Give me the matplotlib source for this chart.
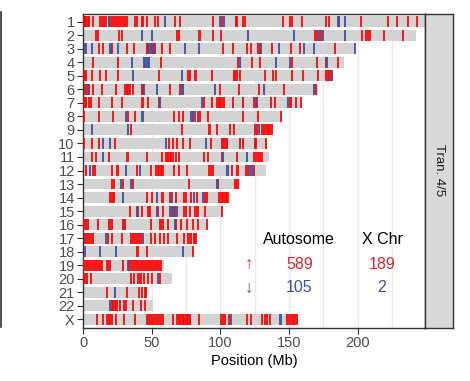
import matplotlib
matplotlib.use("Agg")
import matplotlib.pyplot as plt
from matplotlib.lines import Line2D

plt.rcParams['font.family'] = ['Liberation Sans', 'DejaVu Sans']

chroms = [str(i) for i in range(1, 23)] + ["X"]
chrom_len = [248.96, 242.19, 198.30, 190.21, 181.54, 170.81, 159.35, 145.14,
             138.39, 133.80, 135.09, 133.28, 114.36, 107.04, 101.99, 90.34,
             83.26, 80.37, 58.62, 64.44, 46.71, 50.82, 156.04]

# positions (Mb) of up (red) and down (blue) marks, one list per chromosome
up_mb = [
    [0.5, 1.5, 2.5, 3.5, 4.5, 7.3, 12.5, 14, 15.5, 16.8, 20, 21.5, 23, 24.5, 26, 27.5, 29, 30.5, 32,
     37.9, 39.1, 42.8, 43.9, 46.4, 52.4, 54.8, 67, 70.6, 94.7, 101, 111.2, 112.2, 116.5, 117.8,
     145.9, 151, 152, 159.3, 176.8, 179.2, 186.5, 202.3, 221.9, 228.5, 236.9, 243.5],
    [9.5, 10.7, 26.5, 28.5, 68.5, 70, 84.8, 94.9, 100.5, 169, 170.5, 173.3, 203, 206.1, 207.6, 209,
     219.2, 232.7],
    [11.8, 14.8, 21.1, 32, 37, 46.4, 47.3, 50.6, 52.4, 57.3, 63.2, 101.6, 109.2, 119.2, 122.4, 127.2,
     128.6, 137.3, 151.5, 157.8, 183.5],
    [7.1, 25.5, 57, 112.7, 122.9, 128.9, 151.9, 170.2, 177, 185.5],
    [1.1, 2, 6.3, 12.4, 17, 25.3, 55.4, 76.8, 77.9, 81.9, 94.2, 110, 111, 112.2, 114.3, 132.6, 138,
     140.6, 152, 160, 171.4, 177, 178.1, 179.2, 180.3],
    [1.8, 4.4, 7.5, 13.6, 24, 30.6, 31.7, 32.8, 33.9, 36.2, 42.8, 43.9, 63.4, 70.6, 99.6, 113.8,
     128.4, 146.6, 169.3],
    [1.1, 2.2, 4.7, 5.6, 11.4, 21.3, 28.2, 43.3, 47.6, 55.4, 88.1, 93.7, 97.4, 98.7, 100, 101.2,
     102.7, 109.5, 116.8, 124.8, 126.7, 136.9, 139.8, 150.4, 151.5, 154.9, 158.8],
    [0.7, 11.7, 22.1, 33, 37.7, 66.5, 70.1, 72.6, 80.1, 84, 85.2, 91, 116.8, 127.7, 144.2],
    [35.2, 71.9, 92.1, 97.4, 107.3, 110.2, 124.9, 126.4, 130, 131.5, 132.9, 134.4, 135.8, 137.3],
    [0.7, 6.3, 11.8, 23.5, 62.6, 65.5, 68.5, 72.6, 77.9, 92.9, 100.9, 102.3, 103.8, 104.9, 114.5,
     116.5, 124.9, 126, 133.1],
    [6.3, 9.6, 18.9, 32.4, 46.4, 57.3, 60.8, 61.9, 63, 64.1, 65.2, 67.5, 69.9, 88.1, 91.3, 101,
     111.9, 124.5, 126, 127.5, 128.9, 130],
    [2.5, 7.3, 8.4, 20.9, 25.1, 39.1, 49.2, 53.2, 54.3, 55.4, 56.8, 57.9, 66.3, 69.9, 75.4, 91.8,
     93.2, 94.7, 108.5, 112.5, 118.4, 119.8, 124.5],
    [21.1, 22.6, 29.1, 36.1, 77.4, 98.5, 110.7, 112.5],
    [20, 21.5, 22.9, 46.6, 50, 57.9, 63.7, 67.7, 73.2, 74.7, 78.7, 82.8, 88.9, 90.3, 99.4, 100.9,
     102.3, 103.8, 105.2],
    [34, 39.3, 42.8, 47.7, 48.8, 53.7, 58.5, 64.8, 67, 73.6, 75, 77.9, 81.9, 83.4, 88.9, 100.9],
    [0.7, 2.2, 3.6, 10.6, 19.3, 20.8, 29.1, 30.2, 49.3, 56.4, 57.9, 62.1, 67.9, 71.2, 75.5, 80.3,
     84, 90.1],
    [1.5, 2.9, 4.4, 5.8, 7.3, 18.2, 20.9, 28.2, 35, 36.4, 37.9, 39.3, 40.8, 42.2, 49.2, 52.4, 56.4,
     59, 62.1, 68.2, 73.2, 76.8, 78.7, 80.5, 81.9],
    [39.7, 46.4, 79.8],
    [0.7, 2.2, 3.6, 5.1, 6.6, 8, 9.5, 10.9, 12.4, 13.8, 17.8, 19.3, 29.4, 33.5, 35, 36.4, 37.9,
     39.3, 40.8, 42.2, 43.7, 45.2, 46.6, 48.1, 49.5, 51, 52.4, 53.9, 55.4, 56.8],
    [1.1, 3.1, 5.6, 35, 36.8, 40.4, 42.2, 44.6, 47.1, 49.9, 56.1],
    [17.5, 31.8, 41.1, 43, 44.8, 45.9],
    [20.8, 21.8, 23.3, 24.4, 26.6, 29.9, 31.3, 36.6, 41.9, 45.2],
    [10.4, 14.3, 17.8, 19.3, 21.1, 24, 30.1, 38.2, 46.6, 48.1, 49.5, 51, 52.4, 53.9, 55.4, 56.8, 58,
     65.3, 68.2, 69.6, 71, 72.5, 73.9, 75.4, 76.8, 77.9, 84.5, 100.5, 101.9, 103.4, 106.6, 119.2,
     122, 130.4, 132.2, 134, 136.2, 148.2, 149.7, 151.1, 152.6, 154, 155.5],
]
down_mb = [
    [18.7, 59.7, 99.8, 102.7, 186, 190.8],
    [42.8, 49.9, 119.8, 153.9, 171.5, 174.8, 190.8],
    [1.8, 6.3, 20, 25.3, 48.3, 49.5, 51.7, 74, 84.3, 129.6, 142.8, 160.7, 168.2, 198.1],
    [35.9, 44.1, 45.5, 47, 48.1, 114.6, 140.2, 150.8, 177.7],
    [36.2, 72.3, 181.1],
    [3.3, 44.6, 53.7, 71.9, 73, 96.1, 132, 168.5],
    [56.1, 86.5, 125.9, 149.1],
    [31.1, 43.3, 79, 81.6],
    [6.3, 33.1, 127.8],
    [14.6, 19.7, 60.7, 89.4],
    [14.6, 102.2, 119.1],
    [5.1, 31.1, 41.5, 105.2, 121.6, 123.1],
    [28, 35, 97.4],
    [29.4, 53.9, 64.6, 81.1, 87.6],
    [40.3, 54.8, 63.4, 65.9, 68.2],
    [67],
    [16.8, 43.9],
    [1.5, 12.4, 24, 72.6],
    [32.6],
    [54.4],
    [23.3],
    [19.4],
    [107.8, 143.8],
]

group_names = ["Autosome", "X Chr"]
n_up = [589, 189]
n_down = [105, 2]
panel_label = "Tran. 4/5"

RED = '#FF0000'
BLUE = '#3F4FA3'
TXT_RED = '#E3262B'
W = 1.5
H = 0.8

fig = plt.figure(figsize=(4.7, 3.81), dpi=100)
ax = fig.add_axes([83 / 470, 1 - 327.5 / 381, 342 / 470, 314 / 381])
sax = fig.add_axes([425 / 470, 1 - 327.5 / 381, 28 / 470, 314 / 381])

ypos = list(range(1, len(chroms) + 1))
ax.barh(ypos, chrom_len, height=H, color='#D3D3D3', zorder=2)
for y, ups, downs in zip(ypos, up_mb, down_mb):
    ax.broken_barh([(p - W / 2, W) for p in ups], (y - H / 2, H),
                   facecolors=RED, alpha=0.88, zorder=3, linewidth=0)
    ax.broken_barh([(p - W / 2, W) for p in downs], (y - H / 2, H),
                   facecolors=BLUE, alpha=0.9, zorder=4, linewidth=0)

ax.set_xlim(0, 249)
ax.set_ylim(len(chroms) + 0.6, 0.4)
ax.set_yticks(ypos, chroms)
ax.set_xticks([0, 50, 100, 150, 200])
ax.set_xticks([25, 75, 125, 175, 225], minor=True)
ax.grid(which='both', axis='x', color='#EBEBEB', lw=1.0, zorder=0)
ax.set_axisbelow(True)
ax.tick_params(which='major', length=4, width=0.8, color='#333333',
               labelsize=10.5, labelcolor='#4D4D4D', pad=2)
ax.tick_params(which='minor', length=0)
for s in ax.spines.values():
    s.set_color('#333333')
    s.set_linewidth(1.0)
ax.set_xlabel("Position (Mb)", fontsize=10.5, color='black', labelpad=3)

# count annotations
ax.text(157.4, 17.13, group_names[0], ha='center', va='center', fontsize=11.5, zorder=5)
ax.text(217.7, 17.13, group_names[1], ha='center', va='center', fontsize=11.5, zorder=5)
ax.text(120.9, 18.91, "\u2191", ha='center', va='center', fontsize=12, color=TXT_RED, zorder=5)
ax.text(120.9, 20.68, "\u2193", ha='center', va='center', fontsize=12, color=BLUE, zorder=5)
ax.text(157.6, 18.91, str(n_up[0]), ha='center', va='center', fontsize=11.5, color=TXT_RED, zorder=5)
ax.text(217.5, 18.91, str(n_up[1]), ha='center', va='center', fontsize=11.5, color=TXT_RED, zorder=5)
ax.text(157.6, 20.68, str(n_down[0]), ha='center', va='center', fontsize=11.5, color=BLUE, zorder=5)
ax.text(217.5, 20.68, str(n_down[1]), ha='center', va='center', fontsize=11.5, color=BLUE, zorder=5)

# facet strip
sax.set_facecolor('#D9D9D9')
sax.set_xticks([])
sax.set_yticks([])
for s in sax.spines.values():
    s.set_color('#333333')
    s.set_linewidth(1.0)
sax.text(0.5, 0.5, panel_label, rotation=-90, ha='center', va='center',
         fontsize=9.5, color='#1A1A1A', transform=sax.transAxes)

# edge of neighbouring panel
fig.add_artist(Line2D([0.0015, 0.0015], [1 - 12 / 381, 1 - 327 / 381],
                      color='#333333', lw=1.2, transform=fig.transFigure))

fig.savefig('out.png', dpi=100)
